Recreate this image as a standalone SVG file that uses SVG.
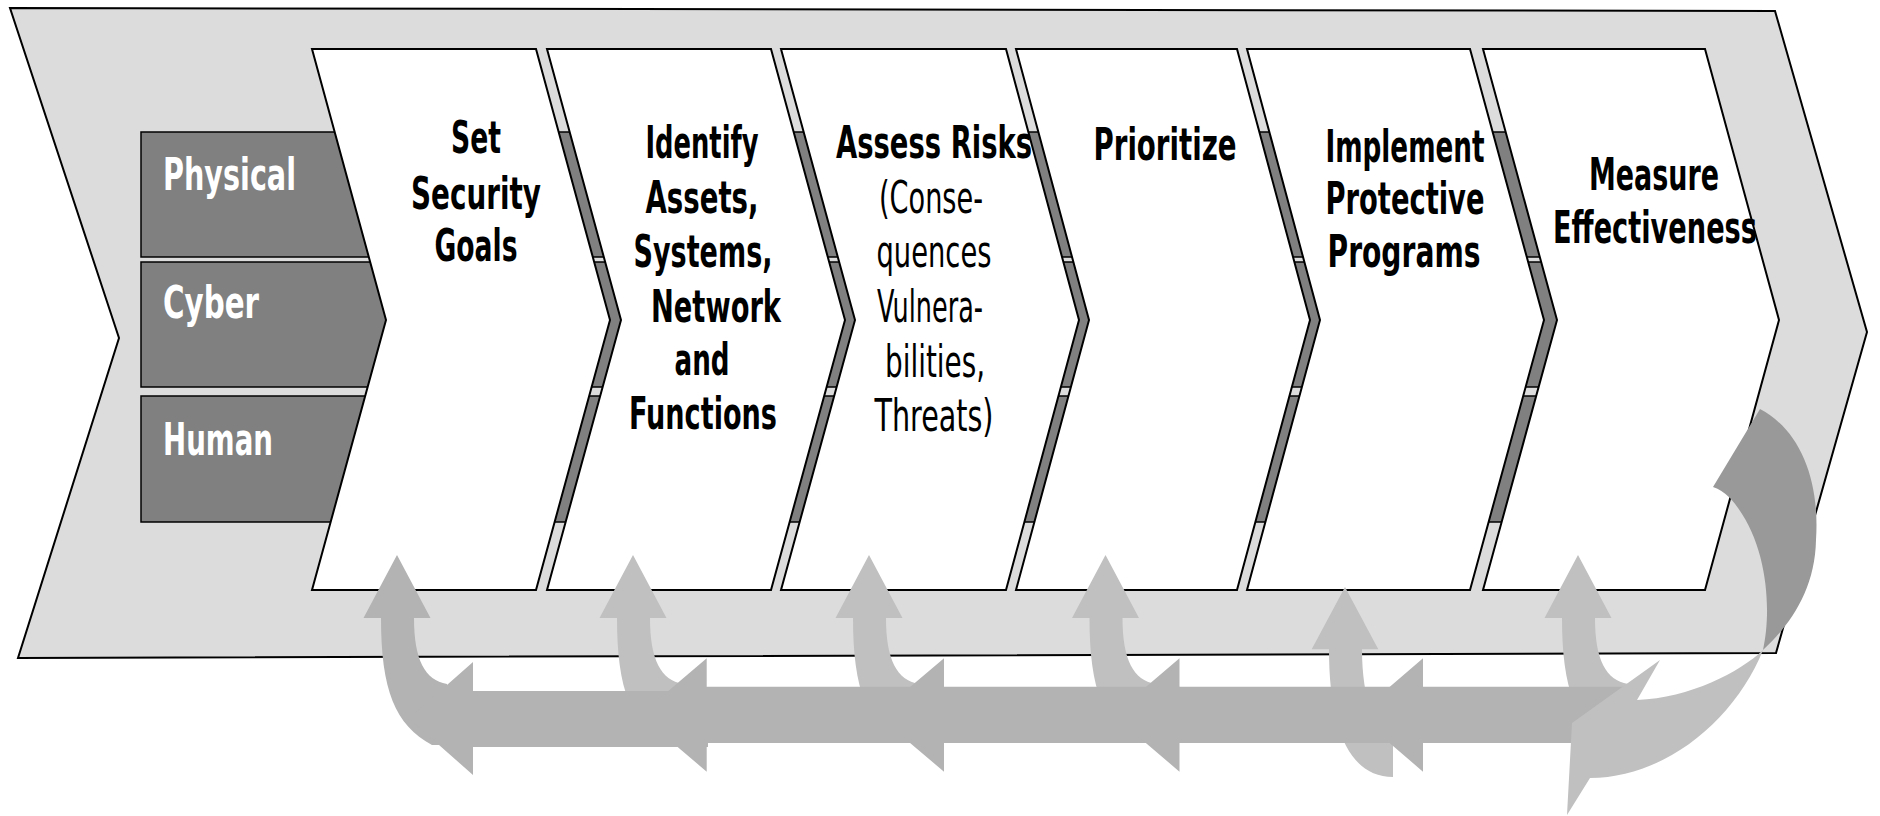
<svg xmlns="http://www.w3.org/2000/svg" width="1880" height="816" viewBox="0 0 1880 816">
<style>
.bg{fill:#dcdcdc;stroke:#000;stroke-width:2;stroke-linejoin:miter}
.band{fill:#808080;stroke:#000;stroke-width:1.5}
.box{fill:#fff;stroke:#000;stroke-width:2;stroke-linejoin:miter}
text{font-family:'DejaVu Sans Condensed','DejaVu Sans',sans-serif;font-stretch:condensed;font-size:44px}
.lbl{font-weight:bold;fill:#fff}
.t{font-weight:bold;fill:#000;text-anchor:middle}
.r{font-weight:normal;fill:#000;text-anchor:middle}
.up{fill:#c0c0c0}
.h{fill:#b3b3b3}
.dk{fill:#999999}
</style>
<rect width="1880" height="816" fill="#fff"/>
<g id="outer-chevron">
<path class="bg" d="M10,8 L1775,11 L1867,332 L1776,653 L18,658 L119,338 Z"/>
</g>
<g id="layers">
<g id="physical"><rect class="band" x="141" y="132" width="1460" height="125"/><text class="lbl" x="163" y="190" textLength="133" lengthAdjust="spacingAndGlyphs">Physical</text></g>
<g id="cyber"><rect class="band" x="141" y="262" width="1460" height="125"/><text class="lbl" x="163" y="318" textLength="96" lengthAdjust="spacingAndGlyphs">Cyber</text></g>
<g id="human"><rect class="band" x="141" y="396" width="1460" height="126"/><text class="lbl" x="163" y="455" textLength="110" lengthAdjust="spacingAndGlyphs">Human</text></g>
</g>
<g id="step1">
<path class="box" d="M312,49 L536,49 L610,320 L536,590 L312,590 L386,320 Z"/>
<text class="t" x="476" y="153" textLength="50" lengthAdjust="spacingAndGlyphs">Set</text>
<text class="t" x="476" y="209" textLength="130" lengthAdjust="spacingAndGlyphs">Security</text>
<text class="t" x="476" y="261" textLength="83" lengthAdjust="spacingAndGlyphs">Goals</text>
</g>
<g id="step2">
<path class="box" d="M547,49 L771,49 L845,320 L771,590 L547,590 L621,320 Z"/>
<text class="t" x="702" y="158" textLength="113" lengthAdjust="spacingAndGlyphs">Identify</text>
<text class="t" x="702" y="213" textLength="113" lengthAdjust="spacingAndGlyphs">Assets,</text>
<text class="t" x="703" y="267" textLength="139" lengthAdjust="spacingAndGlyphs">Systems,</text>
<text class="t" x="716" y="322" textLength="130" lengthAdjust="spacingAndGlyphs">Network</text>
<text class="t" x="702" y="375" textLength="55" lengthAdjust="spacingAndGlyphs">and</text>
<text class="t" x="703" y="429" textLength="148" lengthAdjust="spacingAndGlyphs">Functions</text>
</g>
<g id="step3">
<path class="box" d="M781,49 L1006,49 L1079,320 L1006,590 L781,590 L855,320 Z"/>
<text class="t" x="934" y="158" textLength="196" lengthAdjust="spacingAndGlyphs">Assess Risks</text>
<text class="r" x="931" y="213" textLength="104" lengthAdjust="spacingAndGlyphs">(Conse-</text>
<text class="r" x="934" y="267" textLength="115" lengthAdjust="spacingAndGlyphs">quences</text>
<text class="r" x="930" y="322" textLength="106" lengthAdjust="spacingAndGlyphs">Vulnera-</text>
<text class="r" x="935" y="377" textLength="100" lengthAdjust="spacingAndGlyphs">bilities,</text>
<text class="r" x="934" y="431" textLength="119" lengthAdjust="spacingAndGlyphs">Threats)</text>
</g>
<g id="step4">
<path class="box" d="M1016,49 L1237,49 L1310,320 L1237,590 L1016,590 L1089,320 Z"/>
<text class="t" x="1165" y="160" textLength="143" lengthAdjust="spacingAndGlyphs">Prioritize</text>
</g>
<g id="step5">
<path class="box" d="M1247,49 L1470,49 L1544,320 L1470,590 L1247,590 L1320,320 Z"/>
<text class="t" x="1405" y="162" textLength="159" lengthAdjust="spacingAndGlyphs">Implement</text>
<text class="t" x="1405" y="214" textLength="159" lengthAdjust="spacingAndGlyphs">Protective</text>
<text class="t" x="1404" y="267" textLength="153" lengthAdjust="spacingAndGlyphs">Programs</text>
</g>
<g id="step6">
<path class="box" d="M1483,49 L1705,49 L1779,320 L1705,590 L1483,590 L1557,320 Z"/>
<text class="t" x="1654" y="190" textLength="130" lengthAdjust="spacingAndGlyphs">Measure</text>
<text class="t" x="1655" y="243" textLength="204" lengthAdjust="spacingAndGlyphs">Effectiveness</text>
</g>
<g id="connectors">
<path class="h" d="M397,555 L430.5,618 L414,618 C414,660 425,680 447,684 L447,745 L432,745 C395,725 381,690 381,618 L363.5,618 Z"/>
<path class="up" d="M633,555 L666.5,618 L650,618 C650,660 661,680 683,684 L683,742 L668,742 C631,725 617,690 617,618 L599.5,618 Z"/>
<path class="up" d="M869,555 L902.5,618 L886,618 C886,660 897,680 919,684 L919,742 L904,742 C867,725 853,690 853,618 L835.5,618 Z"/>
<path class="up" d="M1105.5,555 L1139,618 L1122.5,618 C1122.5,660 1133.5,680 1155.5,684 L1155.5,742 L1140.5,742 C1103.5,725 1089.5,690 1089.5,618 L1072,618 Z"/>
<path class="up" d="M1345,587 L1378.3,649.3 L1362,649.3 C1362,700 1375,730 1393,745 L1393,777 C1350,777 1329,730 1329,649.3 L1311.7,649.3 Z"/>
<path class="up" d="M1578,555 L1611.5,618 L1595,618 C1595,660 1606,680 1628,684 L1628,742 L1613,742 C1576,725 1562,690 1562,618 L1544.5,618 Z"/>
<path class="h" d="M409,718.5 L473,662 L473,691 L708,691 L708,747 L473,747 L473,775 Z"/>
<path class="h" d="M640,715 L706.7,658.3 L706.7,686.7 L944,686.7 L944,743 L706.7,743 L706.7,771.7 Z"/>
<path class="h" d="M877,715 L944,658.3 L944,686.7 L1179.5,686.7 L1179.5,743 L944,743 L944,771.7 Z"/>
<path class="h" d="M1113,715 L1179.5,658.3 L1179.5,686.7 L1423,686.7 L1423,743 L1179.5,743 L1179.5,771.7 Z"/>
<path class="h" d="M1357,715 L1423,658.3 L1423,686.7 L1636,686.7 L1636,743 L1423,743 L1423,771.7 Z"/>
<path class="dk" d="M1713,487 L1760,409 C1800,430 1820,480 1816,540 C1815,590 1790,625 1763,650 C1772,610 1768,540 1730,498 Q1722,490 1713,487 Z"/>
<path class="up" d="M1763,650 C1740,672 1690,698 1637,700 L1660,660 L1572,723 L1567,815 L1590,778 C1665,778 1735,720 1763,650 Z"/>
</g>
</svg>
